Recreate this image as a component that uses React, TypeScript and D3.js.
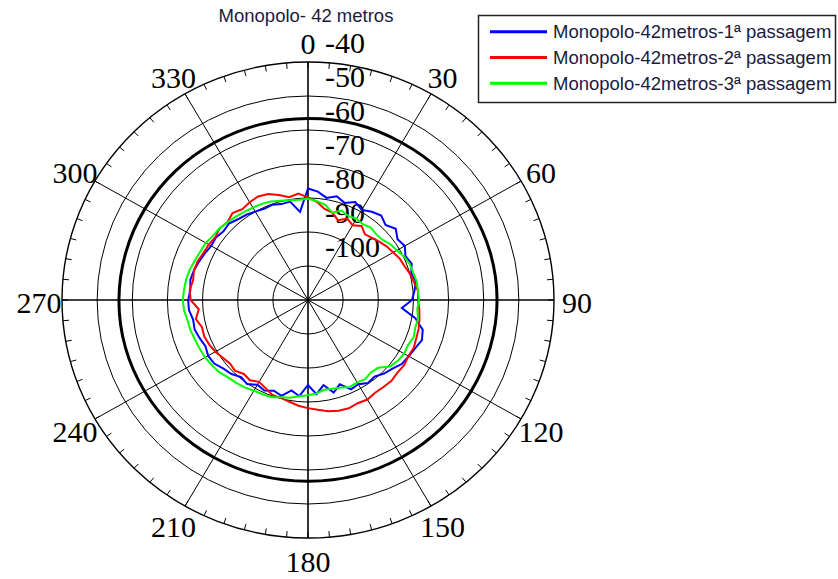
import React from 'react';
import * as d3 from 'd3';

// Radial grid (dB) and angular grid (degrees)
const ringValues = [-100, -90, -80, -70, -60, -50, -40];
const ringLabels = ['-100', '-90', '-80', '-70', '-60', '-50', '-40'];
const spokeAngles = [0, 30, 60, 90, 120, 150, 180, 210, 240, 270, 300, 330];
const spokeLabels = ['0', '30', '60', '90', '120', '150', '180', '210', '240', '270', '300', '330'];
const tickStepDeg = 5;

const title = 'Monopolo- 42 metros';
const seriesNames = [
  'Monopolo-42metros-1ª passagem',
  'Monopolo-42metros-2ª passagem',
  'Monopolo-42metros-3ª passagem',
];
const seriesColors = ['#0000ff', '#ff0000', '#00ff00'];

// Measured level (dB) every 5 degrees, starting at 0
const stepDeg = 5;
const passagem1 = [
  -77.2, -78.0, -79.5, -78.4, -79.6, -78.2, -79.4, -78.3, -77.6, -78.8, -77.4, -78.9,
  -78.2, -79.4, -78.6, -79.6, -78.8, -79.6, -80.4, -83.2, -79.0, -76.2, -75.5, -76.4,
  -76.9, -77.3, -78.6, -79.4, -80.6, -80.2, -81.4, -81.0, -83.6, -81.8, -84.6, -82.2,
  -85.0, -81.6, -83.0, -80.8, -81.6, -80.6, -81.2, -79.8, -80.4, -79.2, -78.6, -77.4,
  -77.2, -77.8, -77.2, -76.6, -76.8, -76.0, -75.9, -76.4, -76.0, -76.4, -77.0, -77.6,
  -78.2, -78.0, -78.6, -78.2, -79.0, -79.4, -80.0, -80.4, -80.2, -80.8, -80.6, -84.0,
];
const passagem2 = [
  -79.8, -81.0, -82.8, -83.4, -85.0, -83.6, -84.6, -83.4, -84.8, -84.2, -83.4, -82.6,
  -82.0, -81.2, -80.8, -80.0, -79.4, -78.6, -78.7, -78.2, -77.8, -77.4, -77.2, -76.8,
  -77.0, -76.6, -76.8, -76.4, -76.6, -76.7, -76.2, -76.5, -76.1, -76.3, -76.8, -77.6,
  -78.2, -78.8, -79.6, -80.2, -80.3, -81.4, -82.2, -81.2, -81.6, -80.6, -81.0, -80.4,
  -79.6, -79.0, -78.6, -78.8, -77.6, -78.8, -76.6, -76.2, -76.8, -76.4, -76.6, -77.2,
  -77.4, -77.8, -77.2, -77.6, -76.6, -77.4, -76.8, -76.4, -76.8, -78.0, -79.3, -78.6,
];
const passagem3 = [
  -80.2, -80.8, -81.6, -83.4, -82.0, -82.8, -82.4, -82.8, -82.2, -82.6, -82.4, -81.4,
  -80.8, -79.8, -79.2, -79.0, -78.6, -78.6, -78.4, -78.8, -78.2, -78.4, -78.0, -78.6,
  -78.4, -78.8, -79.6, -81.8, -82.2, -81.6, -82.0, -81.8, -82.6, -83.0, -83.2, -82.4,
  -82.0, -81.6, -80.8, -80.4, -79.6, -79.4, -79.2, -78.6, -78.2, -77.8, -77.0, -76.6,
  -76.2, -76.0, -75.8, -75.4, -75.2, -74.6, -74.4, -74.6, -74.8, -75.2, -75.8, -76.2,
  -76.4, -77.0, -77.2, -77.6, -78.0, -78.4, -78.6, -78.8, -79.2, -79.8, -80.2, -80.4,
];

// Reference level, every 15 degrees
const refStepDeg = 15;
const referencia = [
  -56.6, -56.5, -56.6, -56.4, -56.5, -56.3, -56.2, -56.3, -56.4, -56.5, -56.6, -56.6,
  -56.7, -56.6, -56.5, -56.4, -56.3, -56.2, -56.2, -56.3, -56.4, -56.5, -56.6, -56.6,
];

const W = 838;
const H = 579;
const CX = 308;
const CY = 300;
const RX = 246;
const RY = 238;

const rScale = d3.scaleLinear().domain([-110, -40]).range([0, 1]);

function polar(deg: number, v: number): [number, number] {
  const a = (deg * Math.PI) / 180;
  const k = rScale(v);
  return [CX + k * RX * Math.sin(a), CY - k * RY * Math.cos(a)];
}

const closedLine = d3.line<[number, number]>().curve(d3.curveLinearClosed);
const smoothClosedLine = d3.line<[number, number]>().curve(d3.curveCatmullRomClosed.alpha(0.5));

function seriesPath(values: number[], step: number, smooth = false) {
  const pts = values.map((v, i) => polar(i * step, v));
  return (smooth ? smoothClosedLine(pts) : closedLine(pts)) || '';
}

const serif = '"Liberation Serif", "Times New Roman", serif';
const sans = '"Liberation Sans", Arial, sans-serif';

export default function App() {
  const outer = ringValues[ringValues.length - 1];
  const tickDegs = d3.range(0, 360, tickStepDeg);
  const series = [passagem1, passagem2, passagem3];

  return (
    <svg
      width={W}
      height={H}
      viewBox={`0 0 ${W} ${H}`}
      style={{ position: 'absolute', left: 0, top: 0, background: '#fff' }}
    >
      <rect x={0} y={0} width={W} height={H} fill="#fff" />

      {/* rings */}
      {ringValues.map((v) => (
        <ellipse
          key={v}
          cx={CX}
          cy={CY}
          rx={rScale(v) * RX}
          ry={rScale(v) * RY}
          fill="none"
          stroke="#000"
          strokeWidth={v === outer ? 1.4 : 1}
        />
      ))}

      {/* spokes */}
      {spokeAngles.map((deg) => {
        const [x, y] = polar(deg, outer);
        return (
          <line
            key={deg}
            x1={CX}
            y1={CY}
            x2={x}
            y2={y}
            stroke="#000"
            strokeWidth={deg % 90 === 0 ? 1.6 : 1}
          />
        );
      })}

      {/* minor ticks on the outer ring */}
      {tickDegs.map((deg) => {
        const a = (deg * Math.PI) / 180;
        const x1 = CX + RX * Math.sin(a);
        const y1 = CY - RY * Math.cos(a);
        const x2 = CX + (RX - 6) * Math.sin(a);
        const y2 = CY - (RY - 6) * Math.cos(a);
        return <line key={deg} x1={x1} y1={y1} x2={x2} y2={y2} stroke="#000" strokeWidth={1} />;
      })}

      {/* radial labels */}
      {ringValues.map((v, i) => (
        <text
          key={v}
          x={CX + 17}
          y={CY - rScale(v) * RY - 9}
          fontFamily={serif}
          fontSize={30}
          fill="#000"
        >
          {ringLabels[i]}
        </text>
      ))}

      {/* angular labels */}
      {spokeAngles.map((deg, i) => {
        const a = (deg * Math.PI) / 180;
        const x = CX + (RX + 23) * Math.sin(a);
        const y = CY - (RY + 21) * Math.cos(a) + 2;
        return (
          <text
            key={deg}
            x={x}
            y={y}
            textAnchor="middle"
            dominantBaseline="central"
            fontFamily={serif}
            fontSize={30}
            fill="#000"
          >
            {spokeLabels[i]}
          </text>
        );
      })}

      {/* reference level */}
      <path d={seriesPath(referencia, refStepDeg, true)} fill="none" stroke="#000" strokeWidth={3} />

      {/* measured series */}
      {series.map((vals, i) => (
        <path
          key={i}
          d={seriesPath(vals, stepDeg)}
          fill="none"
          stroke={seriesColors[i]}
          strokeWidth={2}
          strokeLinejoin="miter"
        />
      ))}

      {/* title */}
      <text x={306} y={22} textAnchor="middle" fontFamily={sans} fontSize={18.5} fill="#1a1a40">
        {title}
      </text>

      {/* legend */}
      <rect x={478.5} y={15.5} width={357} height={87} fill="#fff" stroke="#222" strokeWidth={1.5} />
      {seriesNames.map((name, i) => {
        const y = 31.7 + i * 25.8;
        return (
          <g key={name}>
            <line x1={490} y1={y} x2={547} y2={y} stroke={seriesColors[i]} strokeWidth={3} />
            <text x={553} y={y + 6.5} fontFamily={sans} fontSize={18.5} fill="#1a1a40">
              {name}
            </text>
          </g>
        );
      })}
    </svg>
  );
}
